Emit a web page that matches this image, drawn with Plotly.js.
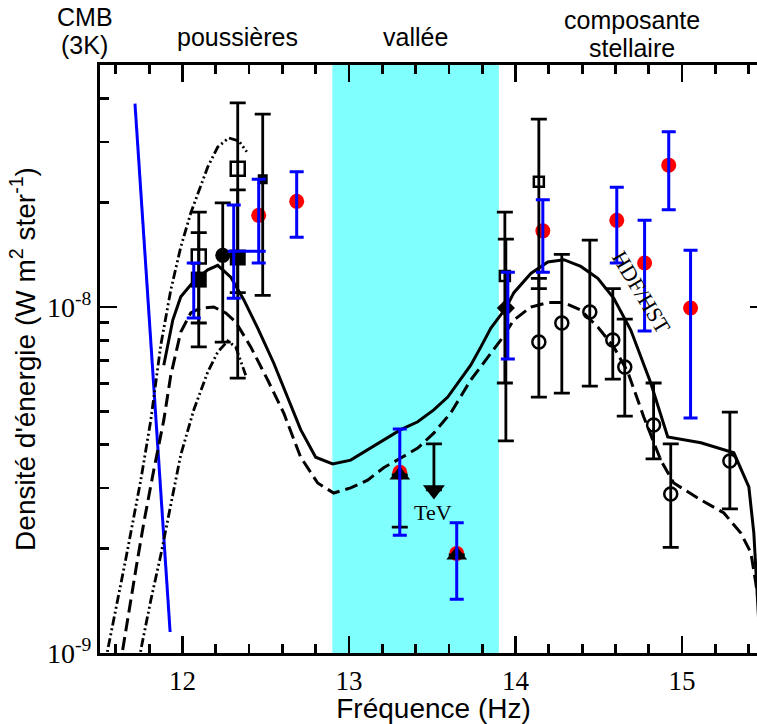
<!DOCTYPE html>
<html><head><meta charset="utf-8">
<script src="https://cdn.plot.ly/plotly-3.0.1.min.js"></script>
<style>html,body{margin:0;padding:0;overflow:hidden;background:#fff}#chart{width:767px;height:724px}</style>
</head><body><div id="chart"></div>
<script>
// ---- data (log10 frequency in Hz, energy density in W m^-2 sr^-1) ----
const valleyBand = [12.9, 13.9];

const cmbX = [11.715, 11.926];
const cmbY = [3.87e-8, 1.15e-9];

const dustUpperX = [11.54, 11.551, 11.659, 11.750, 11.810, 11.870, 11.930, 11.990, 12.050, 12.152, 12.212, 12.278, 12.338, 12.386];
const dustUpperY = [9.0e-10, 1.02e-9, 1.86e-9, 3.16e-9, 4.71e-9, 7.76e-9, 1.12e-8, 1.49e-8, 1.87e-8, 2.54e-8, 2.90e-8, 3.08e-8, 3.02e-8, 2.81e-8];

const dustLowerX = [11.74, 11.750, 11.810, 11.870, 11.930, 11.990, 12.068, 12.152, 12.212, 12.272, 12.320, 12.380];
const dustLowerY = [9.0e-10, 1.02e-9, 1.42e-9, 1.92e-9, 2.68e-9, 3.74e-9, 5.04e-9, 6.49e-9, 7.41e-9, 7.98e-9, 7.66e-9, 6.35e-9];

const dashedX = [11.63, 11.641, 11.720, 11.768, 11.828, 11.888, 11.930, 11.990, 12.050, 12.110, 12.188, 12.260, 12.320, 12.410, 12.512, 12.608, 12.710, 12.812, 12.908, 13.010, 13.112, 13.208, 13.311, 13.413, 13.509, 13.611, 13.731, 13.792, 13.912, 13.990, 14.092, 14.194, 14.290, 14.392, 14.494, 14.590, 14.674, 14.770, 14.872, 14.950, 15.113, 15.251, 15.353, 15.413, 15.443, 15.473, 15.491];
const dashedY = [9.0e-10, 1.02e-9, 1.74e-9, 2.38e-9, 3.38e-9, 4.71e-9, 6.35e-9, 8.47e-9, 9.61e-9, 9.93e-9, 1.00e-8, 9.61e-9, 9.05e-9, 7.67e-9, 6.15e-9, 4.94e-9, 3.68e-9, 3.10e-9, 2.90e-9, 3.00e-9, 3.16e-9, 3.43e-9, 3.66e-9, 3.91e-9, 4.32e-9, 4.94e-9, 6.15e-9, 6.71e-9, 8.03e-9, 9.17e-9, 1.00e-8, 1.03e-8, 1.03e-8, 9.80e-9, 8.75e-9, 7.67e-9, 6.49e-9, 4.81e-9, 3.61e-9, 3.10e-9, 2.77e-9, 2.54e-9, 2.22e-9, 1.95e-9, 1.59e-9, 1.24e-9, 9.55e-10];

const solidX = [11.888, 11.942, 11.990, 12.050, 12.098, 12.152, 12.212, 12.290, 12.368, 12.452, 12.548, 12.632, 12.710, 12.800, 12.902, 13.010, 13.112, 13.208, 13.311, 13.413, 13.509, 13.593, 13.653, 13.731, 13.792, 13.852, 13.942, 13.990, 14.092, 14.194, 14.290, 14.392, 14.494, 14.590, 14.692, 14.812, 14.914, 15.113, 15.311, 15.401, 15.431, 15.455, 15.473];
const solidY = [6.79e-9, 9.17e-9, 1.07e-8, 1.16e-8, 1.22e-8, 1.28e-8, 1.32e-8, 1.22e-8, 1.05e-8, 8.69e-9, 6.89e-9, 5.49e-9, 4.42e-9, 3.68e-9, 3.52e-9, 3.61e-9, 3.86e-9, 4.13e-9, 4.42e-9, 4.66e-9, 5.04e-9, 5.49e-9, 6.03e-9, 6.79e-9, 7.67e-9, 8.69e-9, 9.93e-9, 1.10e-8, 1.25e-8, 1.35e-8, 1.37e-8, 1.31e-8, 1.21e-8, 1.06e-8, 8.58e-9, 6.03e-9, 4.21e-9, 4.05e-9, 3.79e-9, 3.02e-9, 2.22e-9, 1.42e-9, 9.55e-10];

// black measurements
const openSqX = [12.098, 12.332];
const openSqY = [1.40e-8, 2.51e-8];
const openSqHi = [1.88e-8, 3.89e-8];
const openSqLo = [8.99e-9, 1.10e-8];

const smallOpenSqX = [13.936, 14.140];
const smallOpenSqY = [1.23e-8, 2.30e-8];
const smallOpenSqHi = [1.88e-8, 3.49e-8];
const smallOpenSqLo = [6.03e-9, 1.13e-8];

const fillSqX = [12.098, 12.332];
const fillSqY = [1.20e-8, 1.39e-8];
const fillSqHi = [1.64e-8, 2.18e-8];
const fillSqLo = [7.67e-9, 6.23e-9];

const smallFillSqX = [12.482];
const smallFillSqY = [2.34e-8];
const smallFillSqHi = [3.61e-8];
const smallFillSqLo = [1.08e-8];

const fillCircX = [12.242];
const fillCircY = [1.41e-8];
const fillCircHi = [2.00e-8];
const fillCircLo = [7.92e-9];

const diamondX = [13.942];
const diamondY = [9.93e-9];
const diamondHi = [1.57e-8];
const diamondLo = [4.10e-9];

const openCircX = [14.140, 14.278, 14.446, 14.584, 14.656, 14.829, 14.932, 15.287];
const openCircY = [7.92e-9, 8.99e-9, 9.67e-9, 8.03e-9, 6.71e-9, 4.56e-9, 2.88e-9, 3.59e-9];
const openCircHi = [1.21e-8, 1.42e-8, 1.56e-8, 1.13e-8, 9.23e-9, 6.03e-9, 4.02e-9, 4.97e-9];
const openCircLo = [5.49e-9, 5.64e-9, 5.91e-9, 6.19e-9, 4.84e-9, 3.64e-9, 2.02e-9, 2.61e-9];

const triX = [13.305, 13.647];
const triY = [3.27e-9, 1.92e-9];
const triHi = [3.27e-9, 1.92e-9];
const triLo = [2.31e-9, 1.92e-9];

const limitX = [13.510];
const limitY = [2.96e-9];
const limitHi = [4.02e-9];

// red / blue measurements
const redX = [12.458, 12.686, 13.305, 13.647, 14.164, 14.608, 14.775, 14.920, 15.051];
const redY = [1.84e-8, 2.02e-8, 3.33e-9, 1.94e-9, 1.66e-8, 1.78e-8, 1.34e-8, 2.57e-8, 9.93e-9];

const blueX = [12.068, 12.308, 12.458, 12.686, 13.305, 13.647, 13.954, 14.164, 14.608, 14.775, 14.920, 15.051];
const blueY = [1.12e-8, 1.45e-8, 1.84e-8, 2.02e-8, 3.33e-9, 1.94e-9, 9.93e-9, 1.66e-8, 1.78e-8, 1.34e-8, 2.57e-8, 9.93e-9];
const blueHi = [1.34e-8, 1.97e-8, 2.34e-8, 2.46e-8, 4.44e-9, 2.38e-9, 1.26e-8, 2.04e-8, 2.22e-8, 1.78e-8, 3.21e-8, 1.46e-8];
const blueLo = [9.29e-9, 1.06e-8, 1.34e-8, 1.59e-8, 2.19e-9, 1.43e-9, 7.07e-9, 1.26e-8, 1.34e-8, 8.52e-9, 1.91e-8, 4.78e-9];

const blueHX = [12.308];
const blueHY = [1.45e-8];
const blueHLeft = [12.272];
const blueHRight = [12.500];

const xTickVals = [12, 13, 14, 15];
const xMinorVals = [11.6, 11.8, 12.2, 12.4, 12.6, 12.8, 13.2, 13.4, 13.6, 13.8, 14.2, 14.4, 14.6, 14.8, 15.2, 15.4];
const yTickVals = [1e-9, 1e-8];
const yTickText = ['10<sup>-9</sup>', '10<sup>-8</sup>'];
const yMinorVals = [2e-9, 3e-9, 4e-9, 5e-9, 6e-9, 7e-9, 8e-9, 9e-9, 2e-8, 3e-8, 4e-8];

// ---- helpers ----
const plus = (hi, y) => hi.map((h, i) => Math.max(h - y[i], 0));
const minus = (lo, y) => lo.map((l, i) => Math.max(y[i] - l, 0));
function blackErr(x, y, hi, lo, marker) {
  return {x, y, type: 'scatter', mode: 'markers', hoverinfo: 'skip', marker,
    error_y: {type: 'data', symmetric: false, array: plus(hi, y), arrayminus: minus(lo, y),
      color: 'black', thickness: 2.8, width: 8}};
}

const ddd = '9px,3px,2px,3px,2px,3px';
const traces = [
  {x: cmbX, y: cmbY, mode: 'lines', line: {color: '#0000ff', width: 3}},
  {x: dustUpperX, y: dustUpperY, mode: 'lines', line: {color: 'black', width: 2.8, dash: ddd}},
  {x: dustLowerX, y: dustLowerY, mode: 'lines', line: {color: 'black', width: 2.8, dash: ddd}},
  {x: dashedX, y: dashedY, mode: 'lines', line: {color: 'black', width: 3, dash: '13px,6px'}},
  {x: solidX, y: solidY, mode: 'lines', line: {color: 'black', width: 3}},
  {x: redX, y: redY, mode: 'markers', marker: {symbol: 'circle', size: 15, color: '#ff0000'}},
  blackErr(openSqX, openSqY, openSqHi, openSqLo, {symbol: 'square-open', size: 14, color: 'black', line: {width: 2.5}}),
  blackErr(smallOpenSqX, smallOpenSqY, smallOpenSqHi, smallOpenSqLo, {symbol: 'square-open', size: 10, color: 'black', line: {width: 2.5}}),
  blackErr(fillSqX, fillSqY, fillSqHi, fillSqLo, {symbol: 'square', size: 16, color: 'black'}),
  blackErr(smallFillSqX, smallFillSqY, smallFillSqHi, smallFillSqLo, {symbol: 'square', size: 10, color: 'black'}),
  blackErr(fillCircX, fillCircY, fillCircHi, fillCircLo, {symbol: 'circle', size: 15, color: 'black'}),
  blackErr(diamondX, diamondY, diamondHi, diamondLo, {symbol: 'diamond', size: 14, color: 'black'}),
  blackErr(openCircX, openCircY, openCircHi, openCircLo, {symbol: 'circle-open', size: 13, color: 'black', line: {width: 2.5}}),
  blackErr(triX, triY, triHi, triLo, {symbol: 'triangle-up', size: 18, color: 'black'}),
  {x: limitX, y: limitY, mode: 'markers', marker: {symbol: 'triangle-down', size: 19, color: 'black'},
    error_y: {type: 'data', symmetric: false, array: plus(limitHi, limitY), arrayminus: [0], color: 'black', thickness: 2.8, width: 8}},
  {x: blueX, y: blueY, mode: 'markers', marker: {size: 1, opacity: 0},
    error_y: {type: 'data', symmetric: false, array: plus(blueHi, blueY), arrayminus: minus(blueLo, blueY), color: '#0000ff', thickness: 3, width: 7}},
  {x: blueHX, y: blueHY, mode: 'markers', marker: {size: 1, opacity: 0},
    error_x: {type: 'data', symmetric: false, array: blueHRight.map((r, i) => r - blueHX[i]), arrayminus: blueHLeft.map((l, i) => blueHX[i] - l), color: '#0000ff', thickness: 3, width: 0}}
];
traces.forEach(t => { t.type = 'scatter'; t.hoverinfo = 'skip'; t.showlegend = false; });

const sans = 'Liberation Sans, Arial, sans-serif';
const serif = 'Liberation Serif, Times New Roman, serif';
const topFont = {family: sans, size: 25, color: 'black'};
function topLabel(text, xref, x, y) {
  return {text, xref, yref: 'paper', x, y, xanchor: 'center', yanchor: 'middle', showarrow: false, font: topFont};
}
const layout = {
  width: 767, height: 724,
  margin: {l: 100, r: 0, t: 65, b: 71},
  paper_bgcolor: 'white', plot_bgcolor: 'white',
  showlegend: false,
  xaxis: {
    range: [11.505, 15.51], tickmode: 'array', tickvals: xTickVals, ticktext: xTickVals.map(String),
    ticks: 'inside', ticklen: 17, tickwidth: 2.8, tickcolor: 'black',
    showline: true, linewidth: 3, linecolor: 'black', mirror: 'ticks',
    showgrid: false, zeroline: false, ticklabelstandoff: 2,
    tickfont: {family: serif, size: 27, color: 'black'},
    minor: {tickmode: 'array', tickvals: xMinorVals, ticks: 'inside', ticklen: 9, tickwidth: 2.8, tickcolor: 'black', showgrid: false},
    title: {text: 'Fréquence (Hz)', font: {family: sans, size: 28, color: 'black'}, standoff: 6}
  },
  yaxis: {
    type: 'log', range: [-9, -7.3006], tickmode: 'array', tickvals: yTickVals, ticktext: yTickText,
    ticks: 'inside', ticklen: 17, tickwidth: 2.8, tickcolor: 'black',
    showline: true, linewidth: 3, linecolor: 'black', mirror: 'ticks',
    showgrid: false, zeroline: false,
    tickfont: {family: serif, size: 28, color: 'black'},
    minor: {tickmode: 'array', tickvals: yMinorVals, ticks: 'inside', ticklen: 9, tickwidth: 2.8, tickcolor: 'black', showgrid: false},
    title: {text: 'Densité d\'énergie (W m<sup>2</sup> ster<sup>-1</sup>)', font: {family: sans, size: 28, color: 'black'}, standoff: 4}
  },
  shapes: [{type: 'rect', xref: 'x', yref: 'paper', x0: valleyBand[0], x1: valleyBand[1], y0: 0, y1: 1,
    fillcolor: '#80ffff', line: {width: 0}, layer: 'below'}],
  annotations: [
    topLabel('CMB', 'paper', -0.0225, 1.0816),
    topLabel('(3K)', 'paper', -0.0225, 1.034),
    topLabel('poussières', 'x', 12.33, 1.0476),
    topLabel('vallée', 'x', 13.40, 1.0476),
    topLabel('composante', 'x', 14.70, 1.0765),
    topLabel('stellaire', 'x', 14.70, 1.0289),
    {text: 'HDF/HST', xref: 'x', yref: 'y', x: 14.755, y: Math.log10(1.10e-8), textangle: 59, showarrow: false, font: {family: serif, size: 22, color: 'black'}},
    {text: 'TeV', xref: 'x', yref: 'y', x: 13.504, y: Math.log10(2.54e-9), showarrow: false, font: {family: serif, size: 22, color: 'black'}}
  ]
};
Plotly.newPlot('chart', traces, layout, {staticPlot: true, displayModeBar: false});
</script></body></html>
